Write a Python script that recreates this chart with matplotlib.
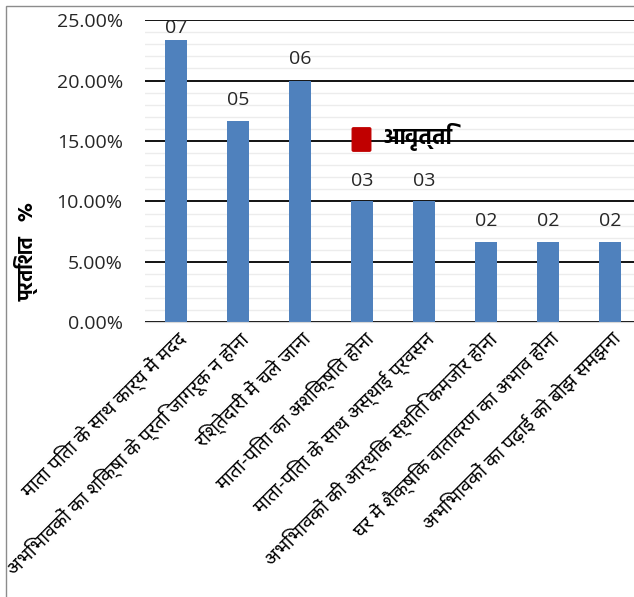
import matplotlib
matplotlib.use("Agg")
import matplotlib.pyplot as plt
from matplotlib import font_manager
from matplotlib.patches import Rectangle, FancyBboxPatch
from matplotlib.ticker import MultipleLocator, FuncFormatter

categories = [
    "माता पिता के साथ कार्य में मदद",
    "अभिभावकों का शिक्षा के प्रति जागरूक न होना",
    "रिश्तेदारी में चले जाना",
    "माता-पिता का अशिक्षित होना",
    "माता-पिता के साथ अस्थाई प्रवसन",
    "अभिभावकों की आर्थिक स्थिति कमजोर होना",
    "घर में शैक्षिक वातावरण का अभाव होना",
    "अभिभावकों का पढ़ाई को बोझ समझना",
]
frequency = [7, 5, 6, 3, 3, 2, 2, 2]
percent = [23.33, 16.67, 20.00, 10.00, 10.00, 6.67, 6.67, 6.67]
value_labels = ["07", "05", "06", "03", "03", "02", "02", "02"]
legend_label = "आवृत्ति"
y_label = "प्रतिशत   %"

fl = font_manager.fontManager.ttflist
names = {f.name for f in fl}

def has_bold(n):
    for f in fl:
        if f.name == n:
            w = f.weight
            if isinstance(w, str):
                if "bold" in w.lower():
                    return True
            elif w >= 600:
                return True
    return False

cands = ["Noto Sans Devanagari", "Hind", "Mukta", "Ek Mukta", "Lohit Devanagari",
         "Anek Devanagari", "Akshar", "Annapurna SIL", "FreeSans"]
deva = "DejaVu Sans"
for cand in cands:
    if cand in names:
        deva = cand
        break
deva_bold = deva
for cand in cands:
    if cand in names and has_bold(cand):
        deva_bold = cand
        break
latin = "Open Sans" if "Open Sans" in names else "DejaVu Sans"
mixed = [latin, deva, "DejaVu Sans"]
devfam = [deva, latin, "DejaVu Sans"]
devbold = [deva_bold, latin, "DejaVu Sans"]

W, H = 634, 597
fig = plt.figure(figsize=(W / 100, H / 100), dpi=100)
fig.patch.set_facecolor("white")

# outer chart border (extends beyond the right/bottom edges)
fig.add_artist(Rectangle((5.5 / W, -20 / H), 700 / W, (597 - 6 + 20) / H,
                         transform=fig.transFigure, fill=False,
                         edgecolor="#8c8c8c", lw=1.0))

left, right, top, bottom = 145, 641, 20, 322.5
ax = fig.add_axes([left / W, 1 - bottom / H, (right - left) / W, (bottom - top) / H])

ymax = 25
x = list(range(len(categories)))
ax.bar(x, percent, width=0.34, color="#4f81bd", zorder=3)
ax.set_xlim(-0.5, len(categories) - 0.5)
ax.set_ylim(0, ymax)

ax.yaxis.set_major_locator(MultipleLocator(5))
ax.yaxis.set_minor_locator(MultipleLocator(1))
ax.yaxis.set_major_formatter(FuncFormatter(lambda v, p: f"{v:.2f}%"))
ax.grid(axis="y", which="major", color="black", lw=1.3, zorder=1)
ax.grid(axis="y", which="minor", color="#ececec", lw=1.0, zorder=0)
for s in ["top", "right", "left"]:
    ax.spines[s].set_visible(False)
ax.spines["bottom"].set_color("#d9d9d9")
ax.spines["bottom"].set_zorder(4)
ax.tick_params(axis="both", which="both", length=0)
ax.tick_params(axis="y", pad=16, labelsize=14, labelcolor="#262626")
for t in ax.get_yticklabels():
    t.set_fontfamily(mixed)

ax.set_xticks(x)
ax.set_xticklabels(categories, rotation=45, ha="right", va="top",
                   rotation_mode="anchor", fontsize=14, family=devfam,
                   color="black")
ax.tick_params(axis="x", pad=4)

# data labels: baseline ~16 px above bar top, kept inside the plot area
px_per_unit = (bottom - top) / ymax
gap = 16 / px_per_unit
cap = ymax - 13 / px_per_unit
for xi, p, lab in zip(x, percent, value_labels):
    ax.text(xi, min(p + gap, cap), lab, ha="center", va="baseline",
            fontsize=14, family=mixed, color="#262626", zorder=5)

ax.set_ylabel(y_label, family=devbold, fontsize=14.5, fontweight="bold")
ax.yaxis.set_label_coords(-0.214, 0.235)

# legend
fig.add_artist(FancyBboxPatch((353.5 / W, 1 - 150 / H), 16 / W, 21 / H,
                              boxstyle="round,pad=0.002", transform=fig.transFigure,
                              facecolor="#c00000", edgecolor="#c00000"))
fig.text(383 / W, 1 - 137 / H, legend_label, family=devbold, fontsize=16,
         fontweight="bold", va="center", ha="left", color="black")

fig.savefig("out.png", dpi=100)
